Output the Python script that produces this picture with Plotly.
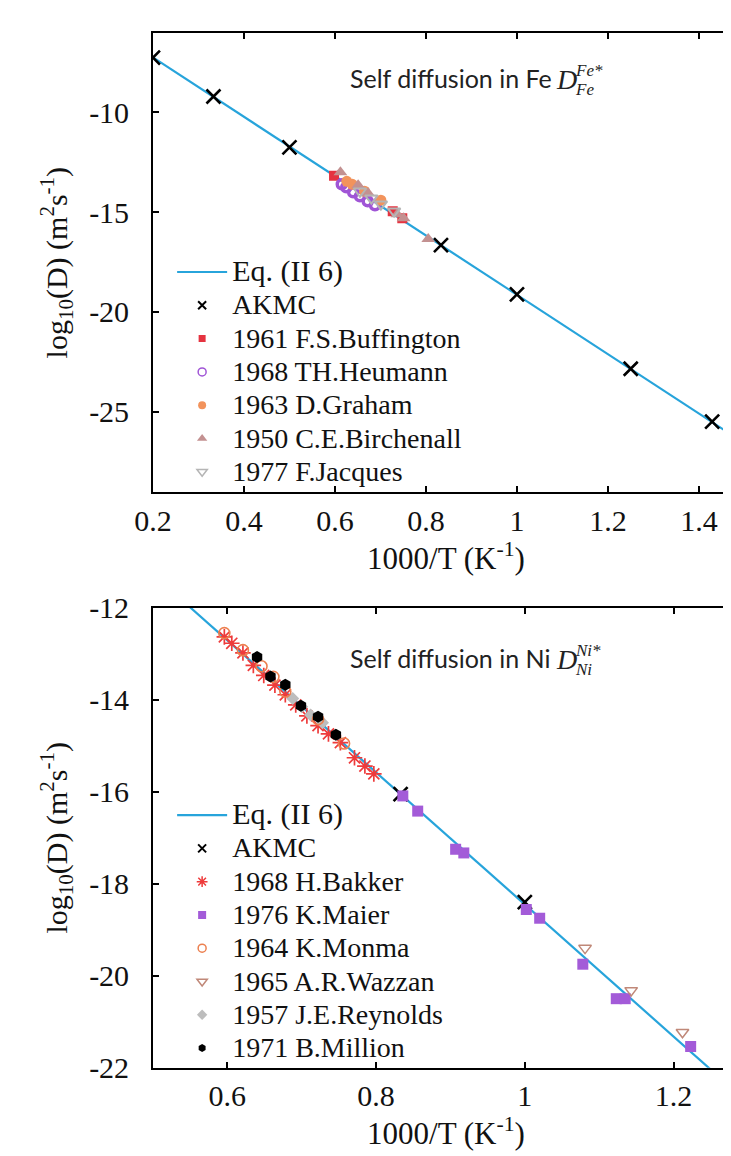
import plotly.graph_objects as go

# ---------------- data: top panel (Fe) ----------------
fe_eq_x = [0.2, 1.5]
fe_eq_y = [-7.24, -26.58]
fe_akmc_x = [0.2, 0.333, 0.5, 0.833, 1.0, 1.25, 1.429]
fe_akmc_y = [-7.25, -9.2, -11.75, -16.65, -19.12, -22.85, -25.5]
fe_buff_x = [0.598, 0.727, 0.748]
fe_buff_y = [-13.17, -14.95, -15.3]
fe_heu_x = [0.615, 0.625, 0.64, 0.655, 0.672, 0.688]
fe_heu_y = [-13.6, -13.75, -14.0, -14.2, -14.45, -14.65]
fe_gra_x = [0.626, 0.638, 0.665, 0.701]
fe_gra_y = [-13.45, -13.6, -13.95, -14.4]
fe_bir_x = [0.612, 0.651, 0.673, 0.737, 0.751, 0.805]
fe_bir_y = [-13.0, -13.65, -14.05, -15.1, -15.3, -16.35]
fe_jac_x = [0.655, 0.68, 0.701, 0.73]
fe_jac_y = [-13.95, -14.3, -14.6, -14.95]

fe_yticks = [-10, -15, -20, -25]
fe_yticktext = ["-10", "-15", "-20", "-25"]
fe_xticks = [0.2, 0.4, 0.6, 0.8, 1.0, 1.2, 1.4]
fe_xticktext = ["0.2", "0.4", "0.6", "0.8", "1", "1.2", "1.4"]

# ---------------- data: bottom panel (Ni) ----------------
ni_eq_x = [0.5, 1.3]
ni_eq_y = [-11.27, -22.76]
ni_akmc_x = [0.833, 1.0]
ni_akmc_y = [-16.05, -18.4]
ni_bak_x = [0.596, 0.606, 0.621, 0.635, 0.649, 0.664, 0.678, 0.692, 0.707,
            0.722, 0.736, 0.752, 0.771, 0.785, 0.797]
ni_bak_y = [-12.63, -12.77, -12.98, -13.25, -13.47, -13.68, -13.89, -14.11, -14.35,
            -14.56, -14.74, -14.93, -15.26, -15.44, -15.61]
ni_mai_x = [0.836, 0.856, 0.907, 0.918, 1.002, 1.02, 1.078, 1.123, 1.135, 1.223]
ni_mai_y = [-16.09, -16.42, -17.25, -17.33, -18.56, -18.75, -19.75, -20.5, -20.5, -21.54]
ni_mon_x = [0.596, 0.621, 0.646, 0.662, 0.678, 0.722, 0.757]
ni_mon_y = [-12.55, -12.92, -13.27, -13.5, -13.82, -14.42, -14.95]
ni_waz_x = [1.081, 1.143, 1.212]
ni_waz_y = [-19.4, -20.32, -21.23]
ni_rey_x = [0.688, 0.70, 0.712, 0.728]
ni_rey_y = [-13.97, -14.15, -14.33, -14.5]
ni_mil_x = [0.64, 0.658, 0.678, 0.699, 0.722, 0.746]
ni_mil_y = [-13.07, -13.49, -13.67, -14.13, -14.37, -14.76]

ni_yticks = [-12, -14, -16, -18, -20, -22]
ni_yticktext = ["-12", "-14", "-16", "-18", "-20", "-22"]
ni_xticks = [0.6, 0.8, 1.0, 1.2]
ni_xticktext = ["0.6", "0.8", "1", "1.2"]

# ---------------- styling ----------------
W, H = 731, 1156
def px(x):
    return x / W
def py(y):
    return 1 - y / H

SERIF = "Liberation Serif, Times New Roman, serif"
LINE_C = "#27A4DB"
LEG_FS = 23.3

def lt(s, fs=28):
    return f'<span style="font-size:{fs}px">{s}</span>'

fig = go.Figure()

def add_series(xs, ys, name, xa, ya, leg, marker, lmarker, mode="markers"):
    fig.add_trace(go.Scatter(x=xs, y=ys, mode=mode, marker=marker, name=name,
                             xaxis=xa, yaxis=ya, showlegend=False, legend=leg))
    fig.add_trace(go.Scatter(x=[None], y=[None], mode="markers", marker=lmarker,
                             name=lt(name), xaxis=xa, yaxis=ya, showlegend=True, legend=leg))

# ---- top ----
fig.add_trace(go.Scatter(x=fe_eq_x, y=fe_eq_y, mode="lines", line=dict(color=LINE_C, width=2.2),
                         name=lt("Eq. (II 6)", 30), xaxis="x", yaxis="y", legend="legend"))
add_series(fe_akmc_x, fe_akmc_y, "AKMC", "x", "y", "legend",
           dict(symbol="x-thin", size=14, line=dict(color="black", width=2.6)),
           dict(symbol="x-thin", size=8, line=dict(color="black", width=2)))
add_series(fe_buff_x, fe_buff_y, "1961 F.S.Buffington", "x", "y", "legend",
           dict(symbol="square", size=10, color="#E53340"),
           dict(symbol="square", size=7, color="#E53340"))
add_series(fe_heu_x, fe_heu_y, "1968 TH.Heumann", "x", "y", "legend",
           dict(symbol="circle-open", size=9, color="#A055D6", line=dict(width=3.5)),
           dict(symbol="circle-open", size=8, color="#A055D6", line=dict(width=1.5)))
add_series(fe_gra_x, fe_gra_y, "1963 D.Graham", "x", "y", "legend",
           dict(symbol="circle", size=11, color="#F2935C"),
           dict(symbol="circle", size=8, color="#F2935C"))
add_series(fe_bir_x, fe_bir_y, "1950 C.E.Birchenall", "x", "y", "legend",
           dict(symbol="triangle-up", size=12, color="#C39191"),
           dict(symbol="triangle-up", size=9, color="#C39191"))
add_series(fe_jac_x, fe_jac_y, "1977 F.Jacques", "x", "y", "legend",
           dict(symbol="triangle-down-open", size=11, color="#B5B5B5", line=dict(width=2)),
           dict(symbol="triangle-down-open", size=9, color="#B5B5B5", line=dict(width=1.5)))

# ---- bottom ----
fig.add_trace(go.Scatter(x=ni_eq_x, y=ni_eq_y, mode="lines", line=dict(color=LINE_C, width=2.2),
                         name=lt("Eq. (II 6)", 30), xaxis="x2", yaxis="y2", legend="legend2"))
add_series(ni_akmc_x, ni_akmc_y, "AKMC", "x2", "y2", "legend2",
           dict(symbol="x-thin", size=14, line=dict(color="black", width=2.6)),
           dict(symbol="x-thin", size=8, line=dict(color="black", width=2)))
add_series(ni_bak_x, ni_bak_y, "1968 H.Bakker", "x2", "y2", "legend2",
           dict(symbol="asterisk-open", size=13, color="#EE3B3B", line=dict(color="#EE3B3B", width=1.7)),
           dict(symbol="asterisk-open", size=9, color="#EE3B3B", line=dict(color="#EE3B3B", width=1.5)))
add_series(ni_rey_x, ni_rey_y, "1957 J.E.Reynolds", "x2", "y2", "legend2",
           dict(symbol="diamond", size=10, color="#BDBDBD"),
           dict(symbol="diamond", size=8, color="#BDBDBD"))
add_series(ni_mon_x, ni_mon_y, "1964 K.Monma", "x2", "y2", "legend2",
           dict(symbol="circle-open", size=11, color="#EC8050", line=dict(width=1.6)),
           dict(symbol="circle-open", size=8, color="#EC8050", line=dict(width=1.5)))
add_series(ni_mil_x, ni_mil_y, "1971 B.Million", "x2", "y2", "legend2",
           dict(symbol="hexagon", size=12, color="black"),
           dict(symbol="hexagon", size=8, color="black"))
add_series(ni_mai_x, ni_mai_y, "1976 K.Maier", "x2", "y2", "legend2",
           dict(symbol="square", size=11, color="#A35BD8"),
           dict(symbol="square", size=8, color="#A35BD8"))
add_series(ni_waz_x, ni_waz_y, "1965 A.R.Wazzan", "x2", "y2", "legend2",
           dict(symbol="triangle-down-open", size=11, color="#C08878", line=dict(width=1.5)),
           dict(symbol="triangle-down-open", size=9, color="#C08878", line=dict(width=1.5)))

# legend order for bottom panel (as in reference)
order_ni = ["AKMC", "1968 H.Bakker", "1976 K.Maier", "1964 K.Monma", "1965 A.R.Wazzan",
            "1957 J.E.Reynolds", "1971 B.Million"]
for tr in fig.data:
    if tr.legend == "legend2" and tr.showlegend is not False:
        raw = tr.name.split(">")[1].split("<")[0]
        if raw in order_ni:
            tr.legendrank = 10 + order_ni.index(raw)
        else:
            tr.legendrank = 1

axis_common = dict(showline=True, linecolor="black", linewidth=1.6, ticks="inside",
                   ticklen=6, tickwidth=1.6, tickcolor="black", showgrid=False, zeroline=False,
                   tickfont=dict(family=SERIF, size=30, color="#111"))

xtitle = dict(text="1000/T (K<sup>-1</sup>)", font=dict(family=SERIF, size=31, color="#111"), standoff=1)
ytitle = dict(text="log<sub>10</sub>(D) (m<sup>2</sup>s<sup>-1</sup>)",
              font=dict(family=SERIF, size=30, color="#111"), standoff=13)

fig.update_layout(
    width=W, height=H,
    margin=dict(l=0, r=0, t=0, b=0),
    paper_bgcolor="white", plot_bgcolor="white",
    xaxis=dict(domain=[px(129.3), 1.0], anchor="y", range=[0.2, 1.488],
               tickvals=fe_xticks, ticktext=fe_xticktext, mirror="ticks",
               title=xtitle, ticklabelstandoff=1, **axis_common),
    yaxis=dict(domain=[py(481), py(8.3)], anchor="x", range=[-29.04, -6.02],
               tickvals=fe_yticks, ticktext=fe_yticktext,
               title=ytitle, ticklabelstandoff=16, **axis_common),
    xaxis2=dict(domain=[px(129.3), 1.0], anchor="y2", range=[0.5, 1.288],
                tickvals=ni_xticks, ticktext=ni_xticktext, mirror="ticks",
                title=xtitle, ticklabelstandoff=1, **axis_common),
    yaxis2=dict(domain=[py(1073.3), py(600)], anchor="x2", range=[-22, -12],
                tickvals=ni_yticks, ticktext=ni_yticktext,
                title=ytitle, ticklabelstandoff=16, **axis_common),
    legend=dict(x=px(149), y=py(232), xanchor="left", yanchor="top", bgcolor="rgba(0,0,0,0)",
                font=dict(family=SERIF, size=LEG_FS, color="#111"), itemwidth=50,
                tracegroupgap=0, traceorder="normal"),
    legend2=dict(x=px(149), y=py(791), xanchor="left", yanchor="top", bgcolor="rgba(0,0,0,0)",
                 font=dict(family=SERIF, size=LEG_FS, color="#111"), itemwidth=50,
                 tracegroupgap=0, traceorder="normal"),
    showlegend=True,
)

SANS = "Lato, Open Sans, sans-serif"
ann = []
for (ytxt, elem) in [(55, "Fe"), (652, "Ni")]:
    ann.append(dict(text=f"Self diffusion in {elem}", x=px(330), y=py(ytxt), xref="paper", yref="paper",
                    xanchor="left", yanchor="middle", showarrow=False,
                    font=dict(family=SANS, size=25, color="#222")))
    ann.append(dict(text="<i>D</i>", x=px(541), y=py(ytxt + 1), xref="paper", yref="paper",
                    xanchor="left", yanchor="middle", showarrow=False,
                    font=dict(family=SERIF, size=28, color="#222")))
    ann.append(dict(text=f"<i>{elem}*</i>", x=px(561), y=py(ytxt - 8), xref="paper", yref="paper",
                    xanchor="left", yanchor="middle", showarrow=False,
                    font=dict(family=SERIF, size=17, color="#222")))
    ann.append(dict(text=f"<i>{elem}</i>", x=px(561), y=py(ytxt + 11), xref="paper", yref="paper",
                    xanchor="left", yanchor="middle", showarrow=False,
                    font=dict(family=SERIF, size=17, color="#222")))
fig.update_layout(annotations=ann)

fig.write_html("out.html")
